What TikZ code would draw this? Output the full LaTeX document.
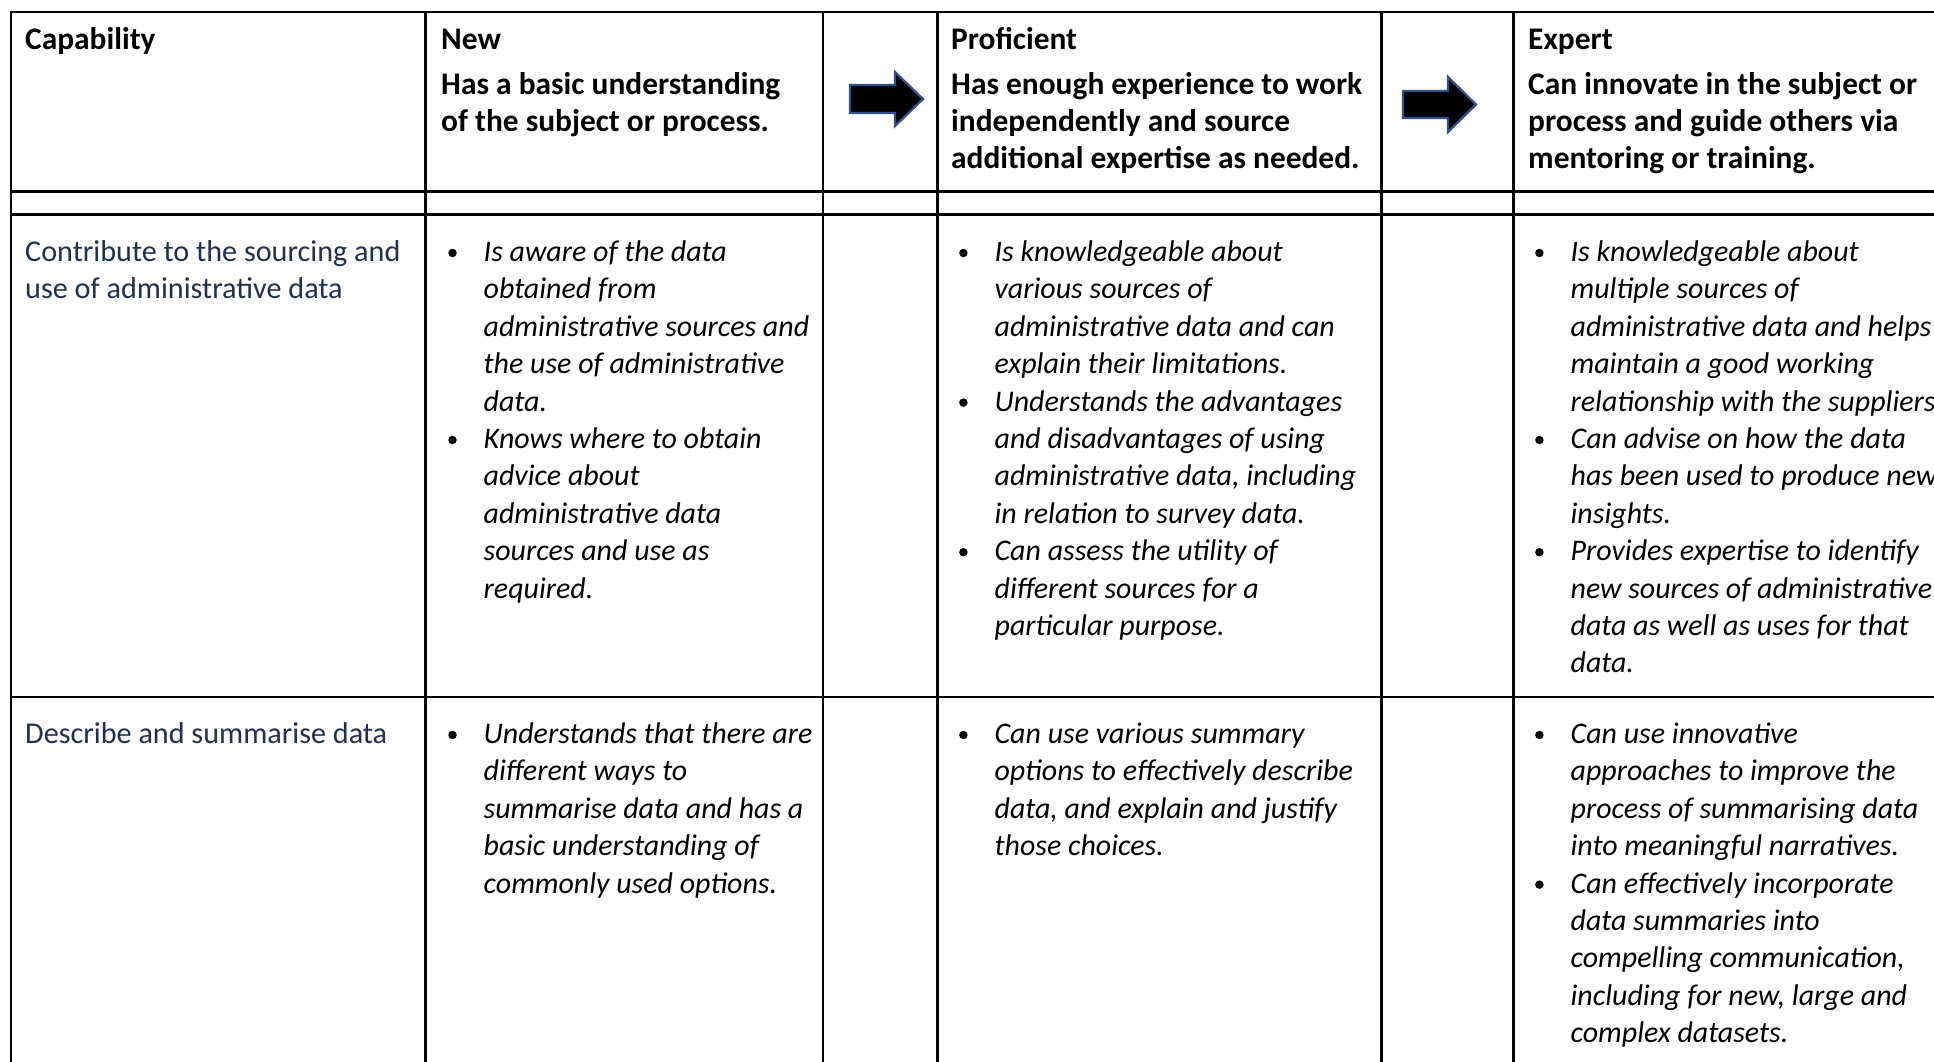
\documentclass[tikz,border=0pt]{standalone}
\usepackage{fontspec}
\setmainfont{Carlito}
\definecolor{capblue}{HTML}{1F3050}
\definecolor{arrowblue}{HTML}{2F528F}
\newlength\calw
\newcommand\tl[1]{\begin{tabular}[t]{@{}l@{}}#1\end{tabular}}
\newcommand\bitem[4]{%
  \node[bul] (#1b) at (#2-31,#3-8.5) {};
  \node[itm] (#1) at (#2,#3) {\tl{#4}};}
\begin{document}
\settowidth\calw{\fontsize{10pt}{12pt}\selectfont Describe and summarise data}%
\pgfmathsetmacro\regsz{3620/\calw}%
\settowidth\calw{\fontsize{10pt}{12pt}\selectfont\bfseries Has a basic understanding}%
\pgfmathsetmacro\bdsz{3390/\calw}%
\settowidth\calw{\fontsize{10pt}{12pt}\selectfont\itshape administrative sources and}%
\pgfmathsetmacro\itsz{3255/\calw}%
\begin{tikzpicture}[x=1pt,y=-1pt]
\tikzset{
  grid/.style={line width=2.2pt, line cap=rect},
  hdr/.style={anchor=base west, inner sep=0pt,
    font=\fontsize{\bdsz pt}{37pt}\selectfont\bfseries},
  capt/.style={anchor=base west, inner sep=0pt, text=capblue,
    font=\fontsize{\regsz pt}{37.4pt}\selectfont},
  itm/.style={anchor=base west, inner sep=0pt,
    font=\fontsize{\itsz pt}{37.4pt}\selectfont\itshape},
  bul/.style={circle, fill=black, minimum size=8.5pt, inner sep=0pt},
  blockarrow/.style={fill=black, draw=arrowblue, line width=2.2pt, line join=miter}
}
\useasboundingbox (0,0) rectangle (1934,1061);
\fill[white] (0,0) rectangle (1934,1061);
% grid
\foreach \y in {12.3,191.5,214.5,697} \draw[grid] (11,\y) -- (1960,\y);
\foreach \x in {11,425.5,822.7,937.4,1381.4,1513.4} \draw[grid] (\x,12.3) -- (\x,1080);
% arrows
\draw[blockarrow] (850,85) -- (895,85) -- (895,72) -- (923,99) -- (895,126) -- (895,113) -- (850,113) -- cycle;
\draw[blockarrow] (1403,91) -- (1448,91) -- (1448,77) -- (1476,104.5) -- (1448,132) -- (1448,118) -- (1403,118) -- cycle;
% header
\node[hdr] (hcap) at (25,49.5) {Capability};
\node[hdr] (hnew) at (441,49.5) {New};
\node[hdr] (hnewd) at (441,94) {\tl{Has a basic understanding\\of the subject or process.}};
\node[hdr] (hpro) at (951,49.5) {Proficient};
\node[hdr] (hprod) at (951,94) {\tl{Has enough experience to work\\independently and source\\additional expertise as needed.}};
\node[hdr] (hexp) at (1528,49.5) {Expert};
\node[hdr] (hexpd) at (1528,94) {\tl{Can innovate in the subject or\\process and guide others via\\mentoring or training.}};
% capabilities
\node[capt] (c1) at (25,261.5) {\tl{Contribute to the sourcing and\\use of administrative data}};
\node[capt] (c2) at (25,743.5) {Describe and summarise data};
% row 1
\bitem{na}{483.5}{261.5}{Is aware of the data\\obtained from\\administrative sources and\\the use of administrative\\data.}
\bitem{nb}{483.5}{448.5}{Knows where to obtain\\advice about\\administrative data\\sources and use as\\required.}
\bitem{pa}{994.4}{261.5}{Is knowledgeable about\\various sources of\\administrative data and can\\explain their limitations.}
\bitem{pb}{994.4}{411.1}{Understands the advantages\\and disadvantages of using\\administrative data, including\\in relation to survey data.}
\bitem{pc}{994.4}{560.7}{Can assess the utility of\\different sources for a\\particular purpose.}
\bitem{ea}{1570.4}{261.5}{Is knowledgeable about\\multiple sources of\\administrative data and helps\\maintain a good working\\relationship with the suppliers.}
\bitem{eb}{1570.4}{448.5}{Can advise on how the data\\has been used to produce new\\insights.}
\bitem{ec}{1570.4}{560.7}{Provides expertise to identify\\new sources of administrative\\data as well as uses for that\\data.}
% row 2
\bitem{nc}{483.5}{743.5}{Understands that there are\\different ways to\\summarise data and has a\\basic understanding of\\commonly used options.}
\bitem{pd}{994.4}{743.5}{Can use various summary\\options to effectively describe\\data, and explain and justify\\those choices.}
\bitem{ed}{1570.4}{743.5}{Can use innovative\\approaches to improve the\\process of summarising data\\into meaningful narratives.}
\bitem{ee}{1570.4}{893.1}{Can effectively incorporate\\data summaries into\\compelling communication,\\including for new, large and\\complex datasets.}
\end{tikzpicture}
\end{document}
